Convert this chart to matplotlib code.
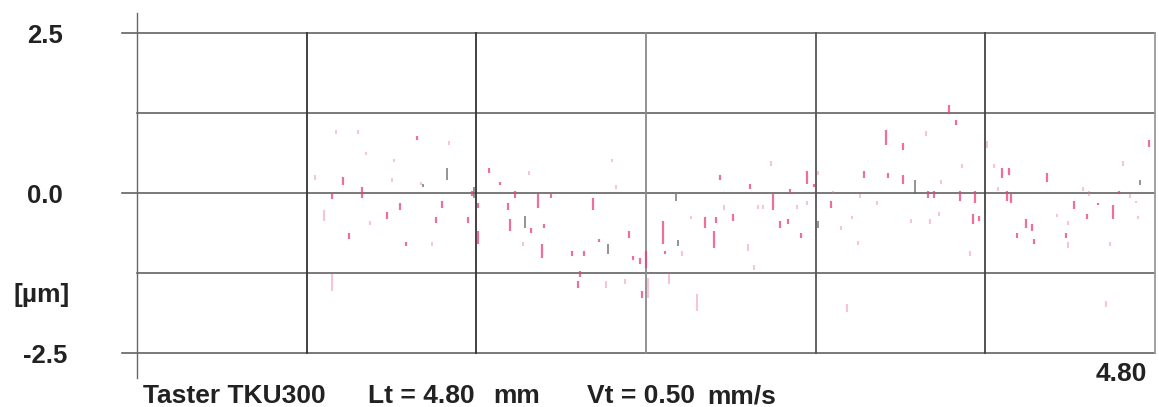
import matplotlib
matplotlib.use("Agg")
import matplotlib.pyplot as plt
from matplotlib import font_manager as fm

# ---------------- data (x in mm, profile height in µm) ----------------
# strong pink profile marks: position, upper end, lower end
pink_x = [0.92, 1.06, 0.97, 1.32, 1.24, 1.18, 1.00, 1.27, 1.44, 1.41,
          1.56, 1.58, 1.61, 1.61, 1.75, 1.76, 1.78, 1.89, 1.95, 1.92,
          1.91, 1.86, 1.71, 1.66, 2.15, 2.32, 2.18, 2.05, 2.11, 2.09,
          2.08, 2.38, 2.37, 2.34, 2.40, 2.49, 2.48, 2.68, 2.73, 2.72,
          2.81, 2.75, 2.89, 3.00, 3.03, 3.07, 3.13, 3.16, 3.08, 3.19,
          3.27, 3.43, 3.53, 3.61, 3.61, 3.54, 3.73, 3.76, 3.83, 3.86,
          3.88, 3.95, 3.94, 3.97, 4.08, 4.11, 4.10, 4.12, 4.19, 4.22,
          4.15, 4.23, 4.29, 4.42, 4.53, 4.63, 4.77, 4.60, 4.48, 4.38]
pink_top = [-0.03, 0.08, 0.24, 0.89, -0.17, -0.31, -0.64, -0.77, -0.13, -0.39,
            -0.39, 0.02, -0.17, -0.60, -0.17, -0.41, 0.03, 0.00, -0.02, -0.49,
            -0.80, -0.56, 0.17, 0.38, -0.08, -0.60, -0.72, -0.92, -0.92, -1.22,
            -1.38, -1.54, -1.02, -0.99, -0.91, -0.91, -0.44, -0.39, -0.39, -0.60,
            -0.33, 0.27, 0.14, -0.02, -0.44, -0.41, -0.64, 0.34, 0.06, 0.14,
            -0.13, 0.34, 0.97, 0.77, 0.27, 0.31, 0.03, 0.03, 1.36, 1.13,
            0.03, 0.03, -0.33, -0.36, 0.39, 0.39, 0.03, -0.02, -0.41, -0.49,
            -0.63, -0.72, 0.31, -0.13, -0.16, 0.03, 0.82, -0.20, -0.33, -0.64]
pink_bot = [-0.10, -0.09, 0.11, 0.82, -0.28, -0.41, -0.72, -0.83, -0.24, -0.47,
            -0.47, -0.05, -0.24, -0.80, -0.28, -0.60, -0.08, -0.24, -0.09, -0.56,
            -1.02, -0.63, 0.11, 0.31, -0.28, -0.71, -0.78, -0.99, -0.99, -1.32,
            -1.49, -1.65, -1.11, -1.05, -1.18, -0.96, -0.80, -0.55, -0.47, -0.86,
            -0.44, 0.20, 0.06, -0.28, -0.55, -0.49, -0.71, 0.14, 0.00, 0.08,
            -0.24, 0.22, 0.74, 0.66, 0.14, 0.22, -0.08, -0.08, 1.25, 1.05,
            -0.13, -0.17, -0.49, -0.44, 0.22, 0.27, -0.13, -0.16, -0.55, -0.60,
            -0.71, -0.80, 0.16, -0.25, -0.20, -0.02, 0.71, -0.41, -0.41, -0.71]

# faint pink profile marks
faint_x = [4.39, 0.84, 1.08, 1.47, 2.24, 2.26, 2.99, 3.72, 3.89, 4.65,
           4.04, 4.01, 3.37, 3.32, 3.40, 3.93, 4.59, 4.34, 4.72, 4.71,
           2.93, 2.95, 3.11, 3.16, 2.61, 2.57, 2.77, 2.88, 2.51, 2.30,
           2.21, 1.82, 1.85, 1.10, 1.39, 0.88, 0.94, 1.04, 1.21, 1.20,
           1.34, 4.68, 4.46, 4.49, 4.39, 4.06, 3.79, 3.78, 3.74, 3.65,
           3.49, 3.41, 3.28, 3.21, 0.92, 2.41, 2.64, 3.35, 4.57, 2.91]
faint_top = [-0.78, 0.27, 0.64, 0.80, 0.53, 0.11, 0.49, 0.96, 0.45, 0.49,
             0.45, 0.80, -0.36, -0.52, -0.75, -0.92, -0.77, -0.33, -0.36, -0.13,
             -0.19, -0.20, -0.20, -0.14, -0.36, -0.92, -0.20, -0.80, -1.25, -1.35,
             -1.38, -0.77, 0.33, -0.44, -0.77, -0.28, 0.97, 0.97, 0.53, 0.22,
             0.17, -0.02, 0.09, 0.02, -0.44, 0.09, 0.19, -0.30, -0.41, -0.41,
             -0.14, -0.02, 0.03, 0.33, -1.27, -1.33, -1.58, -1.74, -1.69, -1.14]
faint_bot = [-0.86, 0.20, 0.58, 0.74, 0.47, 0.05, 0.42, 0.89, 0.39, 0.42,
             0.39, 0.69, -0.42, -0.58, -0.82, -0.99, -0.83, -0.39, -0.42, -0.17,
             -0.25, -0.26, -0.26, -0.20, -0.42, -0.99, -0.27, -0.91, -1.43, -1.43,
             -1.49, -0.83, 0.27, -0.50, -0.83, -0.44, 0.91, 0.91, 0.47, 0.16,
             0.11, -0.08, 0.03, -0.05, -0.50, 0.03, 0.13, -0.36, -0.49, -0.47,
             -0.20, -0.09, -0.03, 0.27, -1.54, -1.65, -1.85, -1.87, -1.79, -1.21]

# grey profile marks
grey_x = [1.35, 1.46, 4.73, 3.67, 3.21, 2.54, 1.83, 1.59, 2.55, 2.22]
grey_top = [0.14, 0.39, 0.19, 0.19, -0.44, -0.02, -0.36, 0.09, -0.74, -0.80]
grey_bot = [0.08, 0.19, 0.11, -0.02, -0.55, -0.13, -0.56, -0.08, -0.83, -0.96]

x_grid = [0.8, 1.6, 2.4, 3.2, 4.0, 4.8]
y_grid = [-2.5, -1.25, 0.0, 1.25, 2.5]
y_ticks = [2.5, 0.0, -2.5]
y_tick_labels = ["2.5", "0.0", "-2.5"]
x_max_label = "4.80"
unit_label = "[µm]"
footer_parts = ["Taster TKU300", "Lt = 4.80", "mm", "Vt = 0.50", "mm/s"]
footer_px = [143, 368, 493, 587, 707]

# ---------------- fonts ----------------
names = {f.name for f in fm.fontManager.ttflist}
bold_font = "Liberation Sans" if "Liberation Sans" in names else "DejaVu Sans"

# ---------------- figure ----------------
W, H = 1159, 407
fig = plt.figure(figsize=(W / 100, H / 100), dpi=100)
fig.patch.set_facecolor("white")
ax = fig.add_axes([137 / W, (H - 352.5) / H, 1018 / W, 320 / H])
ax.set_xlim(0, 4.8)
ax.set_ylim(-2.5, 2.5)
ax.set_facecolor("white")
for s in ax.spines.values():
    s.set_visible(False)
ax.set_xticks([])
ax.set_yticks([])

# grid lines
for y in y_grid:
    x0 = -0.07 if y in (2.5, 0.0, -2.5) else 0.0
    ax.plot([x0, 4.8], [y, y], color="#555555", lw=1.1, clip_on=False, zorder=1)
grid_cols = ["#333333", "#333333", "#8a8a8a", "#555555", "#444444", "#9a9a9a"]
for x, c in zip(x_grid, grid_cols):
    ax.plot([x, x], [-2.5, 2.5], color=c, lw=1.3, clip_on=False, zorder=1)
# left axis line (extends beyond plot)
ax.plot([0, 0], [-2.9, 2.8], color="#666666", lw=1.0, clip_on=False, zorder=1)

# profile marks
ax.vlines(faint_x, faint_bot, faint_top, color="#ef6f9a", lw=1.5, alpha=0.4, zorder=2)
ax.vlines(pink_x, pink_bot, pink_top, color="#e8407a", lw=1.6, alpha=0.75, zorder=3)
ax.vlines(grey_x, grey_bot, grey_top, color="#666666", lw=1.4, alpha=0.7, zorder=3)

# y tick labels
for y, lab in zip(y_ticks, y_tick_labels):
    ax.text(-0.434, y - 0.05, lab, ha="center", va="center", fontsize=18.5,
            fontweight="bold", family=bold_font, color="#222222", clip_on=False)
ax.text(-0.452, -1.6, unit_label, ha="center", va="center", fontsize=19,
        fontweight="bold", family=bold_font, color="#222222", clip_on=False)
ax.text(4.762, -2.84, x_max_label, ha="right", va="center", fontsize=19,
        fontweight="bold", family=bold_font, color="#222222", clip_on=False)
for part, px in zip(footer_parts, footer_px):
    fig.text(px / W, 1 - 403 / H, part, ha="left", va="baseline", fontsize=19,
             fontweight="bold", family=bold_font, color="#222222")

fig.savefig("out.png", dpi=100, facecolor="white")
